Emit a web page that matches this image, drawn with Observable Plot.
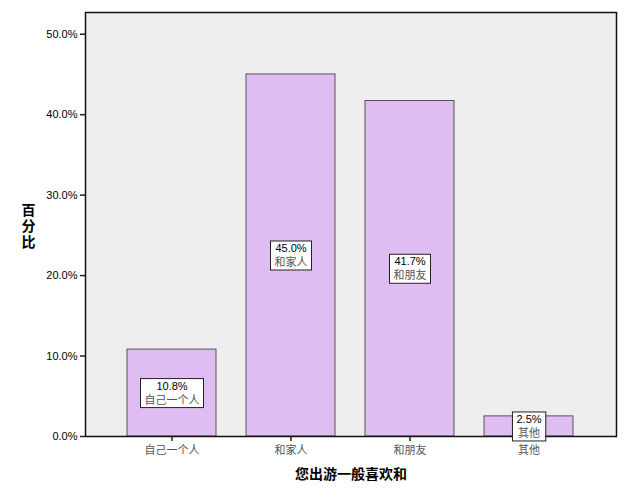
<!DOCTYPE html>
<html><head><meta charset="utf-8">
<script src="https://cdn.jsdelivr.net/npm/d3@7"></script>
<script src="https://cdn.jsdelivr.net/npm/@observablehq/plot@0.6"></script>
<style>
body{margin:0;background:#fff;}
</style>
</head><body>
<div id="chart"></div>
<script>
const categories = ["自己一个人", "和家人", "和朋友", "其他"];
const percents = [10.8, 45.0, 41.7, 2.5];
const yTicks = [0, 10, 20, 30, 40, 50];
const xTitle = "您出游一般喜欢和";
const yTitle = "百分比";

const data = categories.map((c, i) => ({category: c, value: percents[i]}));
const fmt = d => d.toFixed(1) + "%";

const cjk = "'Noto Sans CJK SC', 'Liberation Sans', Arial, sans-serif";
const latin = "'Liberation Sans', Arial, sans-serif";

const chart = Plot.plot({
  width: 629,
  height: 504,
  marginLeft: 85,
  marginRight: 13,
  marginTop: 12,
  marginBottom: 68,
  style: {background: "#fff", fontFamily: latin, fontSize: "11px", color: "#000"},
  x: {domain: categories, paddingInner: 0.25, paddingOuter: 0.343, label: null},
  y: {domain: [0, 52.7], label: null},
  marks: [
    Plot.frame({fill: "#eeeeee", stroke: "none"}),
    Plot.barY(data, {x: "category", y: "value", fill: "#dfbcf2", stroke: "#555", strokeWidth: 1}),
    Plot.frame({stroke: "#111", strokeWidth: 1.5}),
    Plot.axisY({ticks: yTicks, tickFormat: fmt, tickSize: 5, tickPadding: 3, label: null, stroke: "#222", strokeWidth: 1.5}),
    Plot.axisX({tickSize: 5, tickPadding: 5, label: null, stroke: "#222", strokeWidth: 1.5, fontFamily: cjk, fill: "#555"}),
    Plot.text(data, {
      x: "category", y: d => d.value / 2, dy: -7,
      text: d => fmt(d.value), fontSize: 11, fontFamily: latin, fill: "#000",
      className: "vnum"
    }),
    Plot.text(data, {
      x: "category", y: d => d.value / 2, dy: 7,
      text: "category", fontSize: 11, fontFamily: cjk, fill: "#555",
      className: "vcat"
    }),
    Plot.text([yTitle], {
      frameAnchor: "left", dx: -57, dy: -2,
      text: d => d, fontSize: 14, fontWeight: "bold", fontFamily: cjk, fill: "#000",
      className: "ytitle"
    }),
    Plot.text([xTitle], {
      frameAnchor: "bottom", dy: 42,
      text: d => d, fontSize: 14, fontWeight: "bold", fontFamily: cjk, fill: "#000"
    })
  ]
});

document.getElementById("chart").appendChild(chart);

// vertical stacked y title
chart.querySelectorAll("g.ytitle text").forEach(t => {
  t.setAttribute("writing-mode", "vertical-rl");
  t.style.writingMode = "vertical-rl";
  t.style.textOrientation = "upright";
  t.style.letterSpacing = "2px";
  t.setAttribute("text-anchor", "middle");
  t.removeAttribute("dy");
});

// white boxes behind value labels
const svgRect = chart.getBoundingClientRect();
const nums = [...chart.querySelectorAll("g.vnum text")];
const cats = [...chart.querySelectorAll("g.vcat text")];
const gBox = document.createElementNS("http://www.w3.org/2000/svg", "g");
nums[0].parentNode.parentNode.insertBefore(gBox, nums[0].parentNode);
nums.forEach((n, i) => {
  const rn = n.getBoundingClientRect(), rc = cats[i].getBoundingClientRect();
  const left = Math.min(rn.left, rc.left) - svgRect.left;
  const right = Math.max(rn.right, rc.right) - svgRect.left;
  const top = Math.min(rn.top, rc.top) - svgRect.top;
  const bottom = Math.max(rn.bottom, rc.bottom) - svgRect.top;
  const cx = (left + right) / 2, cy = (top + bottom) / 2;
  const w = right - left + 8;
  const h = 29;
  const r = document.createElementNS("http://www.w3.org/2000/svg", "rect");
  r.setAttribute("x", cx - w / 2);
  r.setAttribute("y", cy - h / 2);
  r.setAttribute("width", w);
  r.setAttribute("height", h);
  r.setAttribute("fill", "#fff");
  r.setAttribute("stroke", "#222");
  r.setAttribute("stroke-width", 1);
  gBox.appendChild(r);
});
</script>
</body></html>
